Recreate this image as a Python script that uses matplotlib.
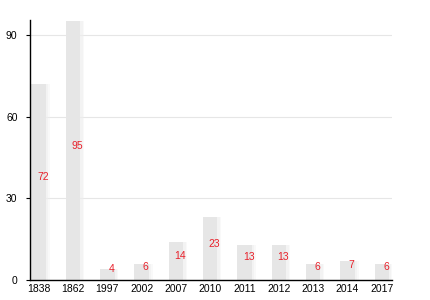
import numpy as np
from matplotlib import pyplot as plt

plt.rcParams['font.family'] = ['Liberation Sans', 'DejaVu Sans']

years = ['1838', '1862', '1997', '2002', '2007', '2010', '2011', '2012', '2013', '2014', '2017']
counts = [72, 95, 4, 6, 14, 23, 13, 13, 6, 7, 6]

x = np.arange(len(years))

fig = plt.figure(figsize=(4.3, 3.0), dpi=100)
ax = fig.add_axes([0.07, 0.067, 0.842, 0.866])

# soft shadow behind the bars
for off, a in [(0.06, 0.5), (0.1, 0.3)]:
    ax.bar(x + off, counts, width=0.44, color='#eeeeee', alpha=a, zorder=1)
ax.bar(x, counts, width=0.42, color='#e6e6e6', zorder=2)

for xi, v in zip(x, counts):
    ax.text(xi + 0.12, v / 2, str(v), color='#e8202a', fontsize=7.5,
            ha='center', va='bottom', zorder=3)

ax.set_xlim(-0.25, 10.3)
ax.set_ylim(0, 95.5)
ax.set_yticks([0, 30, 60, 90])
ax.set_xticks(x)
ax.set_xticklabels(years)
ax.tick_params(axis='x', labelsize=7.5, length=0, pad=3)
ax.tick_params(axis='y', labelsize=7.5, length=3, width=0.8, pad=6)
ax.yaxis.grid(True, color='#e6e6e6', linewidth=0.8, zorder=0)
ax.set_axisbelow(True)

for s in ['top', 'right']:
    ax.spines[s].set_visible(False)
ax.spines['left'].set_linewidth(1.0)
ax.spines['bottom'].set_linewidth(1.0)

plt.savefig('out.png', dpi=100)
